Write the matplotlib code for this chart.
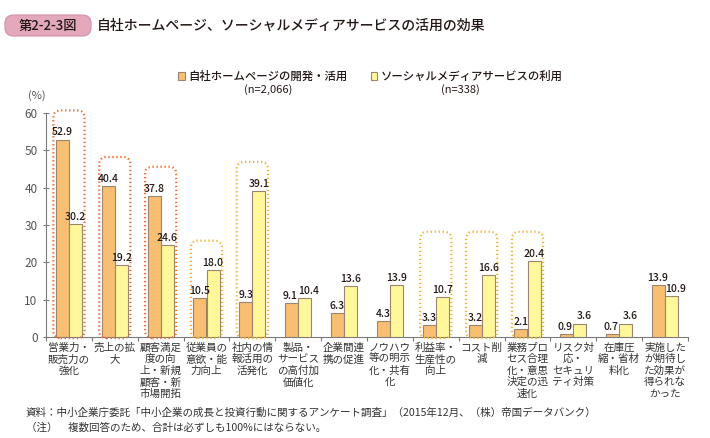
import matplotlib
matplotlib.use("Agg")
import matplotlib.pyplot as plt
from matplotlib.patches import FancyBboxPatch
import numpy as np

plt.rcParams['font.family'] = ['Noto Sans CJK JP', 'DejaVu Sans']

categories = [
    "営業力・\n販売力の\n強化",
    "売上の拡\n大",
    "顧客満足\n度の向\n上・新規\n顧客・新\n市場開拓",
    "従業員の\n意欲・能\n力向上",
    "社内の情\n報活用の\n活発化",
    "製品・\nサービス\nの高付加\n価値化",
    "企業間連\n携の促進",
    "ノウハウ\n等の明示\n化・共有\n化",
    "利益率・\n生産性の\n向上",
    "コスト削\n減",
    "業務プロ\nセス合理\n化・意思\n決定の迅\n速化",
    "リスク対\n応・\nセキュリ\nティ対策",
    "在庫圧\n縮・省材\n料化",
    "実施した\nが期待し\nた効果が\n得られな\nかった",
]
homepage = [52.9, 40.4, 37.8, 10.5, 9.3, 9.1, 6.3, 4.3, 3.3, 3.2, 2.1, 0.9, 0.7, 13.9]
social = [30.2, 19.2, 24.6, 18.0, 39.1, 10.4, 13.6, 13.9, 10.7, 16.6, 20.4, 3.6, 3.6, 10.9]
series_names = ["自社ホームページの開発・活用", "ソーシャルメディアサービスの利用"]
series_n = ["(n=2,066)", "(n=338)"]
yticks = [0, 10, 20, 30, 40, 50, 60]
# highlighted groups: (category indices sharing a box height, colour key)
highlight_clusters = [([0], "red"), ([1], "red"), ([2], "red"), ([3], "gold"), ([4], "gold"),
                      ([8, 9, 10], "gold")]

title_tag = "第2-2-3図"
title = "自社ホームページ、ソーシャルメディアサービスの活用の効果"
note1 = "資料：中小企業庁委託「中小企業の成長と投資行動に関するアンケート調査」（2015年12月、（株）帝国データバンク）"
note2 = "（注）　複数回答のため、合計は必ずしも100%にはならない。"

W, H = 710, 438
fig = plt.figure(figsize=(W / 100, H / 100), dpi=100)

def fx(x):
    return x / W

def fy(y):
    return 1 - y / H

ax_left, ax_right, ax_top, ax_bottom = 46, 688, 113, 337
ax = fig.add_axes([fx(ax_left), fy(ax_bottom), (ax_right - ax_left) / W, (ax_bottom - ax_top) / H])

c_orange = "#F8BF72"
c_yellow = "#FFF79A"
c_edge = "#9A8670"
box_colors = {"red": "#EE6A2C", "gold": "#F2B230"}
text_c = "#231815"
grey = "#7a7a7a"

x = np.arange(len(categories))
bw = 0.285
ax.bar(x - bw / 2, homepage, bw, color=c_orange, edgecolor=c_edge, linewidth=0.8, zorder=3)
ax.bar(x + bw / 2, social, bw, color=c_yellow, edgecolor=c_edge, linewidth=0.8, zorder=3)

for i in range(len(categories)):
    close = abs(homepage[i] - social[i]) <= 3.5
    dxo = -1.0 if close else 0
    dxy = 3.0 if close else 0
    ax.annotate(f"{homepage[i]:.1f}", (x[i] - bw / 2, homepage[i]), xytext=(dxo, 1.5),
                textcoords="offset points", ha="center", va="bottom", fontsize=7.5,
                color=text_c, fontweight="medium", zorder=5)
    ax.annotate(f"{social[i]:.1f}", (x[i] + bw / 2, social[i]), xytext=(dxy, 1.5),
                textcoords="offset points", ha="center", va="bottom", fontsize=7.5,
                color=text_c, fontweight="medium", zorder=5)

ax.set_xlim(-0.5, len(categories) - 0.5)
ax.set_ylim(0, 60)
ax.set_yticks(yticks)
ax.set_yticklabels([str(v) for v in yticks], fontsize=8.5, color="#555555")
ax.tick_params(axis="y", direction="inout", length=4, width=0.8, color=grey, pad=4)

ax.set_xticks(x)
ax.set_xticklabels(categories, fontsize=7.6, color="#333333", linespacing=1.18, va="top")
ax.tick_params(axis="x", which="major", length=0, pad=4)
ax.set_xticks(np.arange(-0.5, len(categories) + 0.5, 1), minor=True)
ax.tick_params(axis="x", which="minor", direction="out", length=3, width=0.8, color=grey)

for s in ["top", "right"]:
    ax.spines[s].set_visible(False)
for s in ["left", "bottom"]:
    ax.spines[s].set_color(grey)
    ax.spines[s].set_linewidth(0.8)

# dotted highlight boxes
xu = (ax_right - ax_left) / len(categories)
yu = (ax_bottom - ax_top) / 60.0
aspect = xu / yu
half = 0.34
pad_top = 7.8
for idxs, ck in highlight_clusters:
    top = max(max(homepage[i], social[i]) for i in idxs) + pad_top
    for i in idxs:
        p = FancyBboxPatch((x[i] - half, -0.3), 2 * half, top + 0.3,
                           boxstyle="round,pad=0,rounding_size=0.16",
                           mutation_aspect=aspect, facecolor="none",
                           edgecolor=box_colors[ck], linewidth=1.6,
                           linestyle=(0, (0.6, 1.2)), clip_on=False, zorder=4)
        ax.add_patch(p)

# title tag
tag = FancyBboxPatch((fx(5), fy(36)), fx(86), 21 / H, boxstyle="round,pad=0,rounding_size=0.012",
                     transform=fig.transFigure, facecolor="#E3A8BC", edgecolor="#D48FA7",
                     linewidth=0.8, mutation_aspect=W / H)
fig.patches.append(tag)
fig.text(fx(48), fy(25.5), title_tag, ha="center", va="center", fontsize=9.5, color=text_c,
         fontweight="medium")
fig.text(fx(97), fy(25.5), title, ha="left", va="center", fontsize=10, color=text_c,
         fontweight="medium")

# legend
for sx, color, name, n, ncx in [(181, c_orange, series_names[0], series_n[0], 268),
                                (374, c_yellow, series_names[1], series_n[1], 460)]:
    sq = FancyBboxPatch((fx(sx - 3.5), fy(79.5)), 7 / W, 7 / H, boxstyle="square,pad=0",
                        transform=fig.transFigure, facecolor=color, edgecolor=c_edge, linewidth=0.8)
    fig.patches.append(sq)
    fig.text(fx(sx + 7), fy(76), name, ha="left", va="center", fontsize=8.2, color=text_c,
             fontweight="medium")
    fig.text(fx(ncx), fy(90), n, ha="center", va="center", fontsize=8, color=text_c)

fig.text(fx(37), fy(96), "(%)", ha="center", va="center", fontsize=8, color="#555555")

fig.text(fx(26), fy(413), note1, ha="left", va="center", fontsize=7.6, color="#333333")
fig.text(fx(26), fy(428), note2, ha="left", va="center", fontsize=7.6, color="#333333")

fig.savefig("out.png", dpi=100, facecolor="white")
